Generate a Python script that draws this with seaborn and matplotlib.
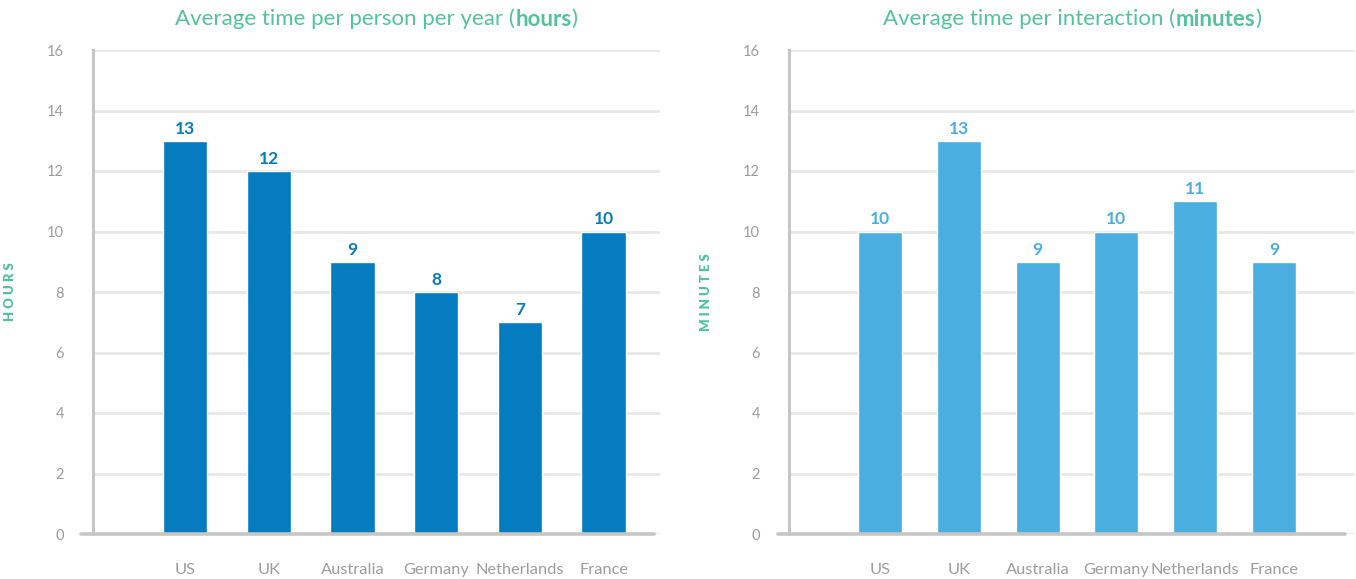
import matplotlib
matplotlib.use("Agg")
import matplotlib.pyplot as plt
import seaborn as sns
import pandas as pd

# Data
countries = ["US", "UK", "Australia", "Germany", "Netherlands", "France"]
hours_per_year = [13, 12, 9, 8, 7, 10]
minutes_per_interaction = [10, 13, 9, 10, 11, 9]
y_ticks = [0, 2, 4, 6, 8, 10, 12, 14, 16]

GREEN = "#52c39a"
DARK_BLUE = "#057cc0"
LIGHT_BLUE = "#4aaee1"
AXIS_GREY = "#c6c6c6"
GRID_GREY = "#e8e8e8"
TEXT_GREY = "#9d9d9d"

sns.set_style("white")
plt.rcParams["font.family"] = ["Lato", "DejaVu Sans"]

W, H = 1356, 579
fig = plt.figure(figsize=(W / 100, H / 100), dpi=100)

ax_l = fig.add_axes([93 / W, 45 / H, 567 / W, 484 / H])
ax_r = fig.add_axes([789 / W, 45 / H, 566 / W, 484 / H])


def draw_panel(ax, values, color, ylabel, width, xlim, axis_span):
    df = pd.DataFrame({"country": countries, "value": values})
    sns.barplot(data=df, x="country", y="value", color=color, width=width,
                saturation=1, ax=ax, zorder=3)
    ax.set_ylim(0, 16)
    ax.set_xlim(*xlim)
    ax.set_yticks(y_ticks)
    ax.yaxis.grid(True, color=GRID_GREY, lw=2)
    ax.set_axisbelow(True)
    for s in ["top", "right", "bottom"]:
        ax.spines[s].set_visible(False)
    ax.spines["left"].set_color(AXIS_GREY)
    ax.spines["left"].set_linewidth(2.2)
    ax.axhline(0, xmin=axis_span[0], xmax=axis_span[1], color=AXIS_GREY,
               lw=2.6, clip_on=False, zorder=4)
    ax.tick_params(axis="y", length=5, width=2, color=AXIS_GREY, pad=16,
                   labelsize=10.5, labelcolor=TEXT_GREY)
    ax.tick_params(axis="x", length=0, pad=21, labelsize=11.8,
                   labelcolor=TEXT_GREY)
    ax.set_xlabel("")
    ax.set_ylabel(ylabel, color=GREEN, fontsize=9.5, fontweight="heavy")
    ax.yaxis.set_label_coords(-0.136, 0.5)
    for cont in ax.containers:
        ax.bar_label(cont, fmt="{:.0f}", padding=3, color=color,
                     fontsize=12.5, fontweight="bold")


draw_panel(ax_l, hours_per_year, DARK_BLUE, "H O U R S", 0.53,
           (-1.10, 5.675), (-0.021, 0.989))
draw_panel(ax_r, minutes_per_interaction, LIGHT_BLUE, "M I N U T E S", 0.56,
           (-1.158, 6.03), (-0.02, 0.982))


def mixed_title(parts, xc, y, size=16):
    """Draw a centred title made of (text, weight) pieces."""
    renderer = fig.canvas.get_renderer()
    pieces = []
    total = 0
    for txt, weight in parts:
        t = fig.text(0, y, txt, fontsize=size, fontweight=weight, color=GREEN,
                     va="center", ha="left")
        w = t.get_window_extent(renderer).width
        pieces.append((t, w))
        total += w
    x = xc * W - total / 2
    for t, w in pieces:
        t.set_x(x / W)
        x += w


mixed_title([("Average time per person per year (", "normal"),
             ("hours", "bold"), (")", "normal")], 376.5 / W, 1 - 19 / H)
mixed_title([("Average time per interaction (", "normal"),
             ("minutes", "bold"), (")", "normal")], 1072 / W, 1 - 19 / H)

fig.savefig("out.png", dpi=100)
